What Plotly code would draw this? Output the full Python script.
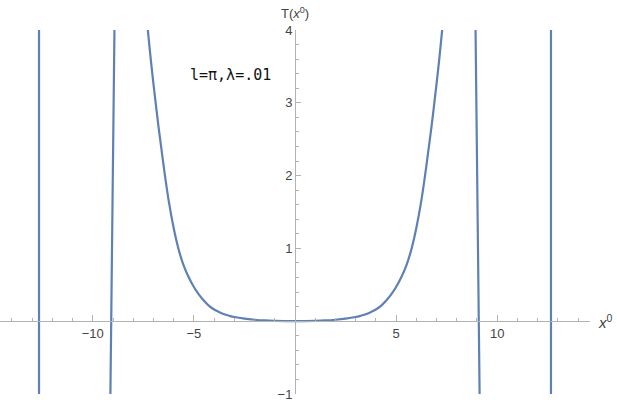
import plotly.graph_objects as go

# ---- data ----
central_x = [-7.45, -7.3, -7.15, -7.0, -6.75, -6.5, -6.25, -6.0, -5.75, -5.5, -5.25, -5.0, -4.75, -4.5, -4.25,
             -4.0, -3.75, -3.5, -3.25, -3.0, -2.5, -2.0, -1.5, -1.0, -0.5, 0.0,
             0.5, 1.0, 1.5, 2.0, 2.5, 3.0, 3.25, 3.5, 3.75, 4.0, 4.25, 4.5, 4.75, 5.0, 5.25, 5.5, 5.75,
             6.0, 6.25, 6.5, 6.75, 7.0, 7.15, 7.3, 7.45]
central_y = [4.5, 4.06, 3.64, 3.26, 2.67, 2.14, 1.66, 1.28, 0.98, 0.76, 0.6, 0.47, 0.365, 0.28, 0.21,
             0.16, 0.125, 0.095, 0.075, 0.058, 0.035, 0.02, 0.01, 0.004, 0.001, 0.0,
             0.001, 0.004, 0.01, 0.02, 0.035, 0.058, 0.075, 0.095, 0.125, 0.16, 0.21, 0.28, 0.365, 0.47, 0.6, 0.76, 0.98,
             1.28, 1.66, 2.14, 2.67, 3.26, 3.64, 4.06, 4.5]

left_branch_x = [-8.93, -9.09, -9.13]
left_branch_y = [4.0, 0.0, -1.0]
right_branch_x = [8.93, 9.09, 9.13]
right_branch_y = [4.0, 0.0, -1.0]

left_jump_x = [-12.66, -12.66]
left_jump_y = [4.0, -1.0]
right_jump_x = [12.66, 12.66]
right_jump_y = [4.0, -1.0]

x_tickvals = [-10, -5, 5, 10]
x_ticktext = ["\u221210", "\u22125", "5", "10"]
y_tickvals = [-1, 1, 2, 3, 4]
y_ticktext = ["\u22121", "1", "2", "3", "4"]

LINE = "#5E81B5"
AX = "#b3b3b3"
TICKFONT = dict(family="Liberation Sans", size=13, color="#444444")

fig = go.Figure()
for xs, ys in [(central_x, central_y), (left_branch_x, left_branch_y), (right_branch_x, right_branch_y),
               (left_jump_x, left_jump_y), (right_jump_x, right_jump_y)]:
    fig.add_trace(go.Scatter(x=xs, y=ys, mode="lines", line=dict(color=LINE, width=2.2),
                             line_shape="spline", showlegend=False, hoverinfo="skip"))

fig.update_layout(
    width=617, height=404,
    margin=dict(l=0, r=27, t=30, b=10, autoexpand=False),
    paper_bgcolor="white", plot_bgcolor="white",
    xaxis=dict(range=[-14.59, 14.59], anchor="free", position=0.2, automargin=False,
               showline=True, linecolor=AX, linewidth=1,
               showgrid=False, zeroline=False,
               tickmode="array", tickvals=x_tickvals, ticktext=x_ticktext,
               ticks="inside", ticklen=6, tickcolor=AX, tickwidth=1,
               tickfont=TICKFONT,
               minor=dict(tickmode="linear", tick0=0, dtick=1, ticks="inside", ticklen=3.5,
                          tickcolor=AX, tickwidth=1, showgrid=False)),
    yaxis=dict(range=[-1, 4], anchor="free", position=0.5, automargin=False,
               showline=True, linecolor=AX, linewidth=1,
               showgrid=False, zeroline=False,
               tickmode="array", tickvals=y_tickvals, ticktext=y_ticktext,
               ticks="inside", ticklen=5, tickcolor=AX, tickwidth=1,
               tickfont=TICKFONT,
               minor=dict(tickmode="linear", tick0=0, dtick=0.2, ticks="inside", ticklen=3,
                          tickcolor=AX, tickwidth=1, showgrid=False)),
)

fig.add_annotation(x=0, y=1.0, xref="x", yref="paper", yshift=7,
                   text="T(<i>x</i><sup>0</sup>)", showarrow=False,
                   xanchor="center", yanchor="bottom",
                   font=dict(family="Liberation Sans", size=13, color="#444444"))
fig.add_annotation(x=1.0, y=0, xref="paper", yref="y", xshift=6,
                   text="<i>x</i><sup>0</sup>", showarrow=False,
                   xanchor="left", yanchor="middle",
                   font=dict(family="Liberation Sans", size=15, color="#444444"))
fig.add_annotation(x=-5.29, y=3.38, xref="x", yref="y",
                   text="l=\u03c0,\u03bb=.01", showarrow=False,
                   xanchor="left", yanchor="middle",
                   font=dict(family="DejaVu Sans Mono", size=15, color="#111111"))

fig.write_html("out.html", config={"displayModeBar": False},
               post_script="document.body.style.margin='0';")
